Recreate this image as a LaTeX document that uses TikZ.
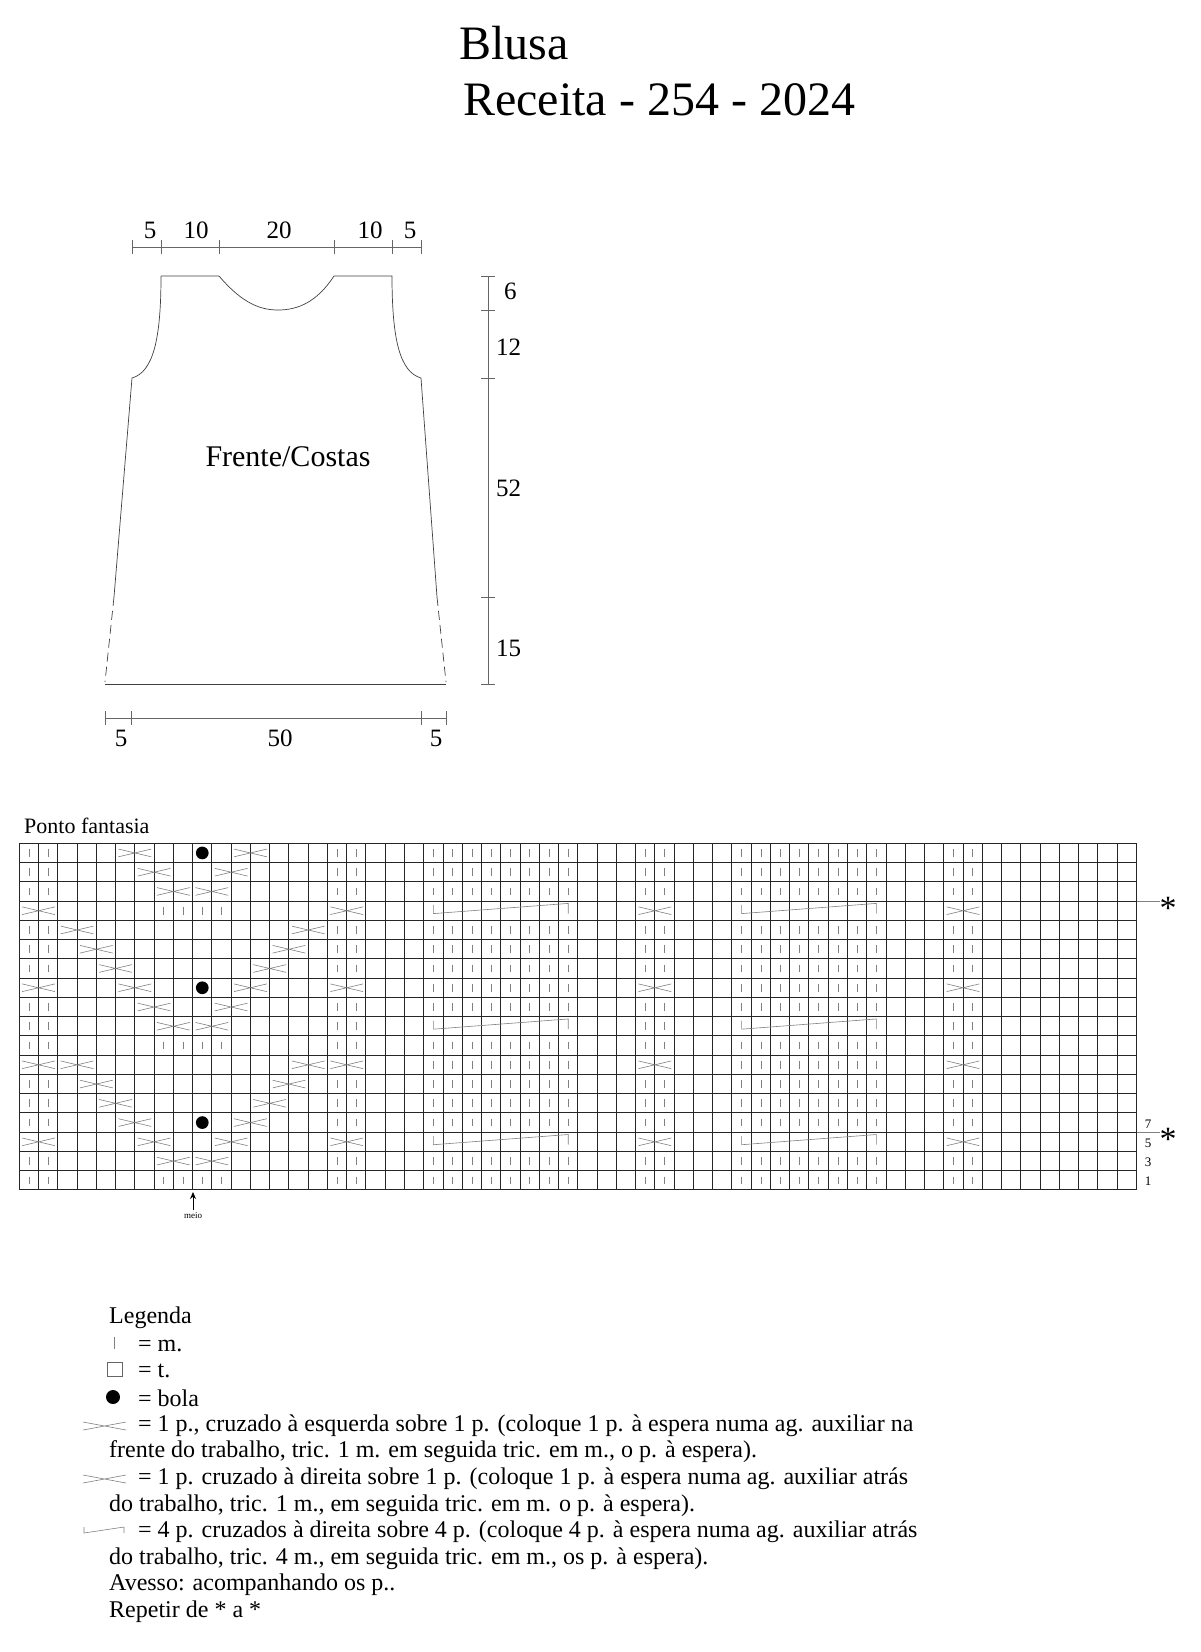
\documentclass[tikz,border=0pt]{standalone}
\usepackage{fontspec}
\setmainfont{Liberation Serif}
\usetikzlibrary{arrows.meta}
\tikzset{
  outl/.style={line width=0.7pt, draw=black!75},
  dimln/.style={line width=0.7pt, draw=black!60},
  grid/.style={line width=1pt, draw=black!85},
  sym/.style={line width=0.6pt, draw=black!50},
  txt/.style={inner sep=0pt, font=\fontsize{24}{26}\selectfont},
  dimtxt/.style={inner sep=0pt, font=\fontsize{25}{27}\selectfont},
}
\newcommand{\cross}[2]{\draw[sym] ({#1+0.15},{#2+0.3}) -- ({#1+1.85},{#2+0.7}) ({#1+0.15},{#2+0.7}) -- ({#1+1.85},{#2+0.3});}
\newcommand{\cablesym}[2]{\draw[sym] ({#1+0.5},{#2+0.2}) -- ({#1+0.5},{#2+0.65}) -- ({#1+7.5},{#2+0.12}) -- ({#1+7.5},{#2+0.65});}
\begin{document}
\begin{tikzpicture}[x=1pt,y=-1pt]
\useasboundingbox (0,0) rectangle (1200,1652);
% titles
\node[anchor=west, inner sep=0pt, font=\fontsize{48}{50}\selectfont] (t1) at (459,43) {Blusa};
\node[anchor=west, inner sep=0pt, font=\fontsize{48}{50}\selectfont] (t2) at (463,100) {Receita - 254 - 2024};
% top dimension
\draw[dimln] (132.5,247) -- (421,247);
\foreach \x in {132.5,161,219,334,392,421} \draw[dimln] (\x,240) -- (\x,254);
\node[dimtxt] (d1) at (150,230) {5};
\node[dimtxt] (d2) at (196,230) {10};
\node[dimtxt] (d3) at (279,230) {20};
\node[dimtxt] (d4) at (370,230) {10};
\node[dimtxt] (d5) at (410,230) {5};
% body
\draw[outl] (161,276) -- (219,276) .. controls (242,303) and (260,310) .. (278,310) .. controls (298,310) and (317,302) .. (334,276) -- (392,276)
  .. controls (392,340) and (400,372) .. (421,378) -- (437,597);
\draw[outl] (161,276) .. controls (161,340) and (153,372) .. (132,378) -- (114,597);
\draw[outl, dash pattern=on 9pt off 5pt] (114,597) -- (105,682);
\draw[outl, dash pattern=on 9pt off 5pt] (437,597) -- (446,682);
\draw[outl] (105,684) -- (446,684);
\node[inner sep=0pt, font=\fontsize{30}{32}\selectfont] (fc) at (288,457) {Frente/Costas};
% bottom dimension
\draw[dimln] (105,718) -- (446,718);
\foreach \x in {105,131,421,446} \draw[dimln] (\x,711) -- (\x,725);
\node[dimtxt] (b1) at (121,738) {5};
\node[dimtxt] (b2) at (280,738) {50};
\node[dimtxt] (b3) at (436,738) {5};
% vertical dimension
\draw[dimln] (488,276) -- (488,684);
\foreach \y in {276,310,378,597,684} \draw[dimln] (481,\y) -- (495,\y);
\node[dimtxt, anchor=west] (v1) at (504,291) {6};
\node[dimtxt, anchor=west] (v2) at (496,347) {12};
\node[dimtxt, anchor=west] (v3) at (496,488) {52};
\node[dimtxt, anchor=west] (v4) at (496,648) {15};
% chart title
\node[anchor=west, inner sep=0pt, font=\fontsize{22}{24}\selectfont] (pf) at (24,826) {Ponto fantasia};
% chart
\begin{scope}[shift={(19.3,843.3)}, x=19.26pt, y=-19.26pt]
  \foreach \i in {0,...,58} \draw[grid] (\i,0) -- (\i,18);
  \foreach \j in {0,...,18} \draw[grid] (0,\j) -- (58,\j);
  \foreach \r in {0,...,17}{
    \foreach \c in {21,...,28,37,38,39,40,41,42,43,44}{
      \ifnum\r=3\relax\else\ifnum\r=9\relax\else\ifnum\r=15\relax\else
        \draw[sym] ({\c+0.5},{\r+0.3}) -- ({\c+0.5},{\r+0.7});
      \fi\fi\fi }
    \foreach \c in {0,1,16,17,32,33,48,49}{
      \ifnum\r=3\relax\else\ifnum\r=7\relax\else\ifnum\r=11\relax\else\ifnum\r=15\relax\else
        \draw[sym] ({\c+0.5},{\r+0.3}) -- ({\c+0.5},{\r+0.7});
      \fi\fi\fi\fi }
  }
  \foreach \r in {3,10,17}{\foreach \c in {7,8,9,10}{\draw[sym] ({\c+0.5},{\r+0.3}) -- ({\c+0.5},{\r+0.7});}}
  \foreach \c/\r in {5/0,11/0,6/1,10/1,7/2,9/2,0/3,16/3,2/4,14/4,3/5,13/5,4/6,12/6,
     0/7,5/7,11/7,16/7,6/8,10/8,7/9,9/9,0/11,2/11,14/11,16/11,3/12,13/12,4/13,12/13,
     5/14,11/14,0/15,6/15,10/15,16/15,7/16,9/16,
     32/3,48/3,32/7,48/7,32/11,48/11,32/15,48/15}{\cross{\c}{\r}}
  \foreach \r in {3,9,15}{\cablesym{21}{\r}\cablesym{37}{\r}}
  \foreach \r in {0,7,14}{\fill ({9.5},{\r+0.5}) circle (0.33);}
\end{scope}
% stars and row numbers
\draw[sym] (1137,901.7) -- (1160,901.7);
\draw[sym] (1137,1132.7) -- (1160,1132.7);
\node[inner sep=0pt, font=\fontsize{34}{34}\selectfont] (s1) at (1168,908) {*};
\node[inner sep=0pt, font=\fontsize{34}{34}\selectfont] (s2) at (1168,1139) {*};
\foreach \n/\y in {7/1124,5/1143,3/1162,1/1181}{\node[inner sep=0pt, font=\fontsize{13}{13}\selectfont] at (1148,\y) {\n};}
\coordinate (ma) at (193,1210);
\coordinate (mb) at (193,1192);
\draw[-{Stealth[length=7pt,width=6pt]}, line width=0.9pt] (ma) -- (mb);
\node[inner sep=0pt, font=\fontsize{9}{9}\selectfont] (meio) at (193,1216) {meio};
% legend
\begin{scope}[every node/.style={txt, anchor=west}]
\node (l0) at (109,1318) {Legenda};
\draw[sym] (114,1337) -- (114,1349);
\node (l1) at (138,1346) {= m.};
\draw[line width=0.6pt, draw=black!60] (107,1362) rectangle (122,1376);
\node (l2) at (138,1371) {= t.};
\fill (113,1397) circle (7);
\node (l3) at (138,1398) {= bola};
\draw[sym] (83,1422) -- (126,1430) (83,1430) -- (126,1422);
\node (l4) at (138,1426) {= 1 p., cruzado à esquerda sobre 1 p. (coloque 1 p. à espera numa ag. auxiliar na};
\node (l5) at (109,1452) {frente do trabalho, tric. 1 m. em seguida tric. em m., o p. à espera).};
\draw[sym] (83,1475) -- (126,1483) (83,1483) -- (126,1475);
\node (l6) at (138,1479) {= 1 p. cruzado à direita sobre 1 p. (coloque 1 p. à espera numa ag. auxiliar atrás};
\node (l7) at (109,1506) {do trabalho, tric. 1 m., em seguida tric. em m. o p. à espera).};
\draw[sym] (84,1527) -- (84,1533) -- (124,1527) -- (124,1533);
\node (l8) at (138,1532) {= 4 p. cruzados à direita sobre 4 p. (coloque 4 p. à espera numa ag. auxiliar atrás};
\node (l9) at (109,1559) {do trabalho, tric. 4 m., em seguida tric. em m., os p. à espera).};
\node (l10) at (109,1585) {Avesso: acompanhando os p..};
\node (l11) at (109,1612) {Repetir de * a *};
\end{scope}
\end{tikzpicture}
\end{document}
